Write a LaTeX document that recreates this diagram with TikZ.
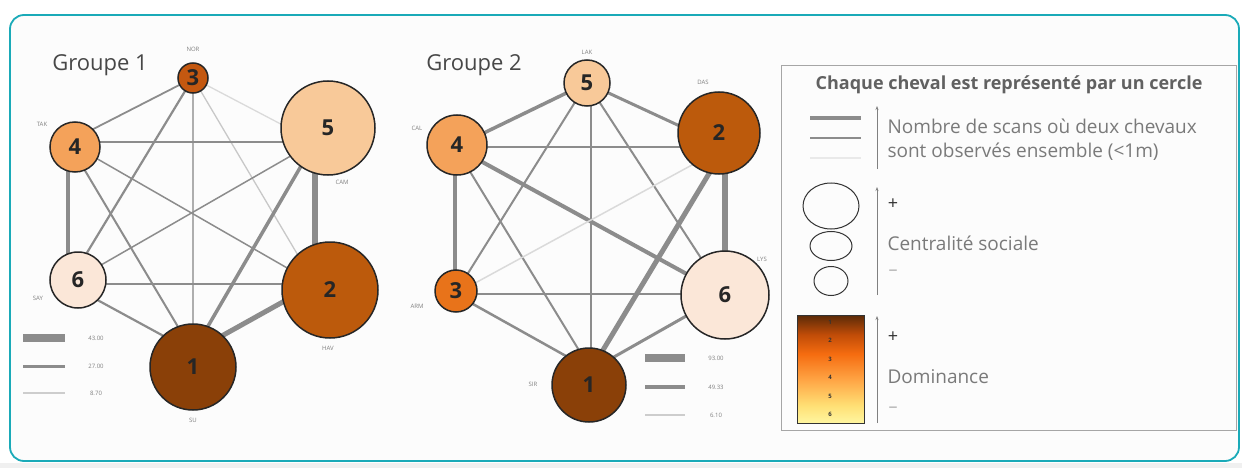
\documentclass[tikz,border=0pt]{standalone}
\usepackage{fontspec}
\setmainfont{Open Sans}
\usetikzlibrary{arrows.meta,shapes.geometric}
\pgfdeclarelayer{back}
\pgfdeclarelayer{links}
\pgfsetlayers{back,links,main}

\definecolor{frameteal}{HTML}{1AAAB8}
\definecolor{rankA}{HTML}{8A4008}
\definecolor{rankB}{HTML}{BC5A0C}
\definecolor{rankCa}{HTML}{C45810}
\definecolor{rankCb}{HTML}{E8731A}
\definecolor{rankD}{HTML}{F4A25A}
\definecolor{rankE}{HTML}{F8C999}
\definecolor{rankF}{HTML}{FBE7D8}
\definecolor{linkgray}{HTML}{8C8C8C}
\definecolor{linklight}{HTML}{DADADA}
\definecolor{legtext}{HTML}{7A7A7A}
\definecolor{gA}{HTML}{5A2A08}
\definecolor{gB}{HTML}{C04C08}
\definecolor{gC}{HTML}{F56C10}
\definecolor{gD}{HTML}{FFA545}
\definecolor{gE}{HTML}{FFE075}
\definecolor{gF}{HTML}{FFF6A0}

% dominance scale: the path spans 25bp (bottom) to 75bp (top)
\pgfdeclareverticalshading{domscale}{100bp}{%
  color(0bp)=(gF); color(25bp)=(gF); color(33bp)=(gE); color(45bp)=(gD);
  color(57bp)=(gC); color(66bp)=(gB); color(75bp)=(gA); color(100bp)=(gA)}

\tikzset{
  horse/.style={circle, draw=black!85, line width=1.5pt, inner sep=0pt,
    font=\bfseries\fontsize{22}{22}\selectfont, text=black!85},
  tag/.style={font=\fontsize{6}{6}\selectfont, text=gray},
  grouptitle/.style={font=\fontsize{22}{22}\selectfont, text=black!72},
  lk/.style={linkgray, line width=#1},
  lkl/.style={linklight, line width=#1},
  val/.style={font=\fontsize{6}{6}\selectfont, text=gray},
  legtxt/.style={font=\fontsize{19}{19}\selectfont, text=legtext, anchor=west},
  sign/.style={font=\fontsize{18}{18}\selectfont},
  ring/.style={draw=black!80, line width=1pt, ellipse, inner sep=0pt},
  legarrow/.style={gray, line width=0.7pt, -{Stealth[length=4pt,width=3pt]}},
}

\begin{document}
\begin{tikzpicture}[x=1pt,y=-1pt]
\useasboundingbox (0,0) rectangle (1242,468);

\begin{pgfonlayer}{back}
  \fill[gray!12] (0,463) rectangle (1242,468);
  \draw[frameteal, line width=1.8pt, fill=black!1, rounded corners=14pt]
    (10,15) rectangle (1239,461);
\end{pgfonlayer}

% ---------- Groupe 1 ----------
\node[grouptitle] (t1) at (100,65) {Groupe 1};
\node[horse, fill=rankCa, minimum size=30pt] (a3) at (193,78) {3};
\node[horse, fill=rankD,  minimum size=50pt] (a4) at (75,147) {4};
\node[horse, fill=rankE,  minimum size=94pt] (a5) at (328,128) {5};
\node[horse, fill=rankF,  minimum size=56pt] (a6) at (78,280) {6};
\node[horse, fill=rankB,  minimum size=96pt] (a2) at (330,290) {2};
\node[horse, fill=rankA,  minimum size=86pt] (a1) at (193,367) {1};

\node[tag] (a3t) at (193,49) {NOR};
\node[tag] (a4t) at (42,124) {TAK};
\node[tag] (a5t) at (342,182) {CAM};
\node[tag] (a6t) at (38,298) {SAY};
\node[tag] (a2t) at (328,348) {HAV};
\node[tag] (a1t) at (193,420) {SU};

\begin{pgfonlayer}{links}
  \draw[lk=1.8pt] (a3.center) -- ([shift={(-7,-5)}]a4.center);
  \draw[lk=2.2pt] (a3.center) -- ([shift={(-10,4)}]a6.center);
  \draw[lk=1.2pt, linkgray!70] (a3.center) -- ([shift={(0,-15)}]a1.center);
  \draw[lkl=1.3pt] (a3.center) -- ([shift={(-13,14)}]a5.center);
  \draw[lkl=1.3pt, linklight!80!gray] (a3.center) -- ([shift={(-15,-6)}]a2.center);
  \draw[lk=1.8pt] ([shift={(-7,-5)}]a4.center) -- ([shift={(-13,14)}]a5.center);
  \draw[lk=4.5pt] ([shift={(-7,-5)}]a4.center) -- ([shift={(-10,4)}]a6.center);
  \draw[lk=2pt] ([shift={(-7,-5)}]a4.center) -- ([shift={(0,-15)}]a1.center);
  \draw[lk=1.5pt] ([shift={(-7,-5)}]a4.center) -- ([shift={(-15,-6)}]a2.center);
  \draw[lk=1.5pt] ([shift={(-13,14)}]a5.center) -- ([shift={(-10,4)}]a6.center);
  \draw[lk=6.5pt] ([shift={(-13,14)}]a5.center) -- ([shift={(-15,-6)}]a2.center);
  \draw[lk=3.5pt] ([shift={(-13,14)}]a5.center) -- ([shift={(0,-15)}]a1.center);
  \draw[lk=1.8pt] ([shift={(-10,4)}]a6.center) -- ([shift={(-15,-6)}]a2.center);
  \draw[lk=2.2pt] ([shift={(-10,4)}]a6.center) -- ([shift={(0,-15)}]a1.center);
  \draw[lk=5pt] ([shift={(-15,-6)}]a2.center) -- ([shift={(0,-15)}]a1.center);
\end{pgfonlayer}

% weight scale, group 1
\coordinate (s1a) at (23,338); \coordinate (s1b) at (65,338);
\coordinate (s2a) at (23,366); \coordinate (s2b) at (65,366);
\coordinate (s3a) at (23,393); \coordinate (s3b) at (65,393);
\draw[lk=8pt] (s1a) -- (s1b);
\draw[lk=3pt] (s2a) -- (s2b);
\draw[lkl=1.2pt, linklight!85!gray] (s3a) -- (s3b);
\node[val] (v11) at (96,338) {43.00};
\node[val] (v12) at (96,366) {27.00};
\node[val] (v13) at (96,393) {8.70};

% ---------- Groupe 2 ----------
\node[grouptitle] (t2) at (474,65) {Groupe 2};
\node[horse, fill=rankE,  minimum size=46pt] (b5) at (587,83) {5};
\node[horse, fill=rankB,  minimum size=82pt] (b2) at (719,133) {2};
\node[horse, fill=rankD,  minimum size=60pt] (b4) at (457,145) {4};
\node[horse, fill=rankCb, minimum size=42pt] (b3) at (456,291) {3};
\node[horse, fill=rankF,  minimum size=88pt] (b6) at (725,295) {6};
\node[horse, fill=rankA,  minimum size=74pt] (b1) at (589,385) {1};

\node[tag] (b5t) at (587,52) {LAK};
\node[tag] (b2t) at (703,82) {DAS};
\node[tag] (b4t) at (417,128) {CAL};
\node[tag] (b3t) at (417,306) {ARM};
\node[tag] (b6t) at (762,259) {LYS};
\node[tag] (b1t) at (533,384) {SIR};

\begin{pgfonlayer}{links}
  \draw[lk=3.5pt] (b5.center) -- ([shift={(-2,2)}]b4.center);
  \draw[lk=3pt]   (b5.center) -- ([shift={(6,14)}]b2.center);
  \draw[lk=2pt]   (b5.center) -- ([shift={(-1,3)}]b3.center);
  \draw[lk=1.8pt] ([shift={(4,0)}]b5.center) -- ([shift={(2,-15)}]b1.center);
  \draw[lk=2pt]   (b5.center) -- (b6.center);
  \draw[lk=2pt]   ([shift={(-2,2)}]b4.center) -- ([shift={(6,14)}]b2.center);
  \draw[lk=4.5pt] ([shift={(-2,2)}]b4.center) -- ([shift={(-1,3)}]b3.center);
  \draw[lk=2pt]   ([shift={(-2,2)}]b4.center) -- ([shift={(2,-15)}]b1.center);
  \draw[lk=4pt]   ([shift={(-2,2)}]b4.center) -- (b6.center);
  \draw[lkl=1.5pt] ([shift={(6,14)}]b2.center) -- ([shift={(-1,3)}]b3.center);
  \draw[lk=6pt]   ([shift={(6,14)}]b2.center) -- ([shift={(0,-1)}]b6.center);
  \draw[lk=5pt]   ([shift={(6,14)}]b2.center) -- ([shift={(2,-15)}]b1.center);
  \draw[lk=2.5pt] ([shift={(-1,3)}]b3.center) -- ([shift={(0,-1)}]b6.center);
  \draw[lk=2.5pt] ([shift={(-1,3)}]b3.center) -- ([shift={(2,-15)}]b1.center);
  \draw[lk=3pt]   ([shift={(0,-1)}]b6.center) -- ([shift={(2,-15)}]b1.center);
\end{pgfonlayer}

% weight scale, group 2
\coordinate (r1a) at (645,358); \coordinate (r1b) at (685,358);
\coordinate (r2a) at (645,387); \coordinate (r2b) at (685,387);
\coordinate (r3a) at (645,415); \coordinate (r3b) at (685,415);
\draw[lk=8pt] (r1a) -- (r1b);
\draw[lk=3.5pt] (r2a) -- (r2b);
\draw[lkl=1.2pt, linklight!85!gray] (r3a) -- (r3b);
\node[val] (v21) at (716,358) {93.00};
\node[val] (v22) at (716,387) {49.33};
\node[val] (v23) at (716,415) {6.10};

% ---------- Legend ----------
\node[draw=gray!70, line width=0.8pt, minimum width=455pt, minimum height=365pt,
      inner sep=0pt] (leg) at (1008.5,247.5) {};
\node[font=\bfseries\fontsize{18}{18}\selectfont, text=black!62] (legt)
  at (1009,85) {Chaque cheval est représenté par un cercle};

% link weight
\coordinate (w1a) at (810,118); \coordinate (w1b) at (861,118);
\coordinate (w2a) at (810,138); \coordinate (w2b) at (861,138);
\coordinate (w3a) at (810,158); \coordinate (w3b) at (861,158);
\draw[lk=4pt] (w1a) -- (w1b);
\draw[lk=2.2pt] (w2a) -- (w2b);
\draw[lkl=2pt, linklight!60!white] (w3a) -- (w3b);
\coordinate (ar1a) at (877,169); \coordinate (ar1b) at (877,106);
\draw[legarrow] (ar1a) -- (ar1b);
\node[legtxt] (lw1) at (884,126) {Nombre de scans où deux chevaux};
\node[legtxt] (lw2) at (884,152) {sont observés ensemble (<1m)};

% centrality
\node[ring, minimum width=56pt, minimum height=46pt] (c1) at (831,206) {};
\node[ring, minimum width=42pt, minimum height=29pt] (c2) at (831,246) {};
\node[ring, minimum width=34pt, minimum height=29pt] (c3) at (831,281) {};
\coordinate (ar2a) at (877,295); \coordinate (ar2b) at (877,187);
\draw[legarrow] (ar2a) -- (ar2b);
\node[sign, text=black!80] (cp) at (893,204) {+};
\node[legtxt] (lc) at (884,243) {Centralité sociale};
\node[sign, text=gray!60] (cm) at (893,273) {–};

% dominance
\shade[shading=domscale] (797,315) rectangle (864,423);
\draw[black!80, line width=1pt] (797,315) rectangle (864,423);
\foreach \k/\yy in {1/322,2/340,3/359,4/377,5/396,6/414}
  \node[font=\bfseries\fontsize{6}{6}\selectfont, text=black!80] (d\k) at (830,\yy) {\k};
\coordinate (ar3a) at (877,423); \coordinate (ar3b) at (877,316);
\draw[legarrow] (ar3a) -- (ar3b);
\node[sign, text=black!80] (dp) at (893,337) {+};
\node[legtxt] (ld) at (884,377) {Dominance};
\node[sign, text=gray!60] (dm) at (893,410) {–};
\end{tikzpicture}
\end{document}
